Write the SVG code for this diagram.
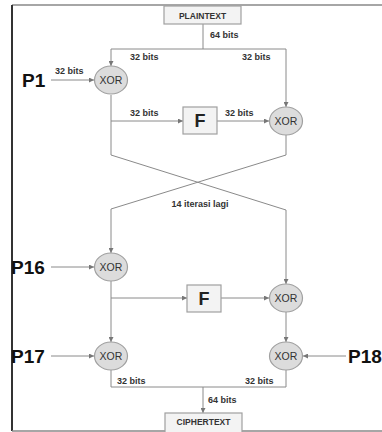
<svg xmlns="http://www.w3.org/2000/svg" width="382" height="432" viewBox="0 0 382 432">
<style>
.ln{stroke:#8a8a8a;stroke-width:1;fill:none}
.xor ellipse{fill:#dcdcdc;stroke:#a0a0a0;stroke-width:1.2}
.xor text{font-family:"Liberation Sans",Arial,sans-serif;font-size:10.5px;fill:#333;text-anchor:middle}
.box rect{fill:#f3f3f3;stroke:#a0a0a0;stroke-width:1.2}
.bt{font-family:"Liberation Sans",Arial,sans-serif;font-size:8.5px;font-weight:bold;fill:#333;text-anchor:middle}
.ft{font-family:"Liberation Sans",Arial,sans-serif;font-size:18px;font-weight:bold;fill:#222;text-anchor:middle}
.lb{font-family:"Liberation Sans",Arial,sans-serif;font-size:9px;font-weight:bold;fill:#333}
.pk{font-family:"Liberation Sans",Arial,sans-serif;font-size:19px;font-weight:bold;fill:#111}
</style>
<defs>
<marker id="ah" viewBox="0 0 6 6" refX="6" refY="3" markerWidth="5" markerHeight="5" orient="auto" markerUnits="userSpaceOnUse">
<path d="M0,0 L6,3 L0,6 z" fill="#777"/>
</marker>
</defs>
<rect x="0" y="0" width="382" height="432" fill="#fff"/>
<g id="frame">
<line x1="12" y1="5" x2="382" y2="5" stroke="#888" stroke-width="1.5"/>
<line x1="12" y1="5" x2="12" y2="431" stroke="#333" stroke-width="2"/>
<line x1="12" y1="431" x2="382" y2="431" stroke="#888" stroke-width="1.5"/>
</g>
<g id="connectors">
<path class="ln" d="M203,24 V49"/>
<path class="ln" d="M111,49 H286"/>
<path class="ln" d="M111,49 V66" marker-end="url(#ah)"/>
<path class="ln" d="M286,49 V107" marker-end="url(#ah)"/>
<path class="ln" d="M51,80 H94" marker-end="url(#ah)"/>
<path class="ln" d="M111,95 V155 L286,210 V284" marker-end="url(#ah)"/>
<path class="ln" d="M111,121 H183" marker-end="url(#ah)"/>
<path class="ln" d="M217,121 H269" marker-end="url(#ah)"/>
<path class="ln" d="M286,135 V155 L111,209 V253" marker-end="url(#ah)"/>
<path class="ln" d="M51,267 H94" marker-end="url(#ah)"/>
<path class="ln" d="M111,281 V342" marker-end="url(#ah)"/>
<path class="ln" d="M111,298 H187" marker-end="url(#ah)"/>
<path class="ln" d="M221,298 H269" marker-end="url(#ah)"/>
<path class="ln" d="M286,312 V342" marker-end="url(#ah)"/>
<path class="ln" d="M51,356 H94" marker-end="url(#ah)"/>
<path class="ln" d="M346,356 H303" marker-end="url(#ah)"/>
<path class="ln" d="M111,370 V387 H286 V370"/>
<path class="ln" d="M203,387 V413" marker-end="url(#ah)"/>
</g>
<g id="labels">
<text class="lb" x="210" y="38">64 bits</text>
<text class="lb" x="130" y="60">32 bits</text>
<text class="lb" x="242" y="60">32 bits</text>
<text class="lb" x="55" y="74">32 bits</text>
<text class="lb" x="130" y="116">32 bits</text>
<text class="lb" x="225" y="116">32 bits</text>
<text class="lb" x="200" y="207" text-anchor="middle">14 iterasi lagi</text>
<text class="lb" x="117" y="384">32 bits</text>
<text class="lb" x="245" y="384">32 bits</text>
<text class="lb" x="208" y="403">64 bits</text>
</g>
<g id="plaintext" class="box"><rect x="164" y="6" width="77" height="18"/><text class="bt" x="202.5" y="18.5">PLAINTEXT</text></g>
<g id="ciphertext" class="box"><rect x="165" y="413" width="77" height="22"/><text class="bt" x="203.5" y="425">CIPHERTEXT</text></g>
<g id="p1"><text class="pk" x="22" y="87">P1</text></g>
<g id="p16"><text class="pk" x="11" y="274">P16</text></g>
<g id="p17"><text class="pk" x="11" y="363">P17</text></g>
<g id="p18"><text class="pk" x="348" y="363">P18</text></g>
<g id="xor1" class="xor"><ellipse cx="111" cy="80" rx="16.5" ry="14"/><text x="111" y="84">XOR</text></g>
<g id="xor2" class="xor"><ellipse cx="286" cy="121" rx="16.5" ry="14"/><text x="286" y="125">XOR</text></g>
<g id="xor3" class="xor"><ellipse cx="111" cy="267" rx="16.5" ry="14"/><text x="111" y="271">XOR</text></g>
<g id="xor4" class="xor"><ellipse cx="286" cy="298" rx="16.5" ry="14"/><text x="286" y="302">XOR</text></g>
<g id="xor5" class="xor"><ellipse cx="111" cy="356" rx="16.5" ry="14"/><text x="111" y="360">XOR</text></g>
<g id="xor6" class="xor"><ellipse cx="286" cy="356" rx="16.5" ry="14"/><text x="286" y="360">XOR</text></g>
<g id="f1" class="box"><rect x="183" y="107" width="34" height="27"/><text class="ft" x="200" y="127">F</text></g>
<g id="f2" class="box"><rect x="187" y="285" width="34" height="27"/><text class="ft" x="204" y="305">F</text></g>
</svg>
